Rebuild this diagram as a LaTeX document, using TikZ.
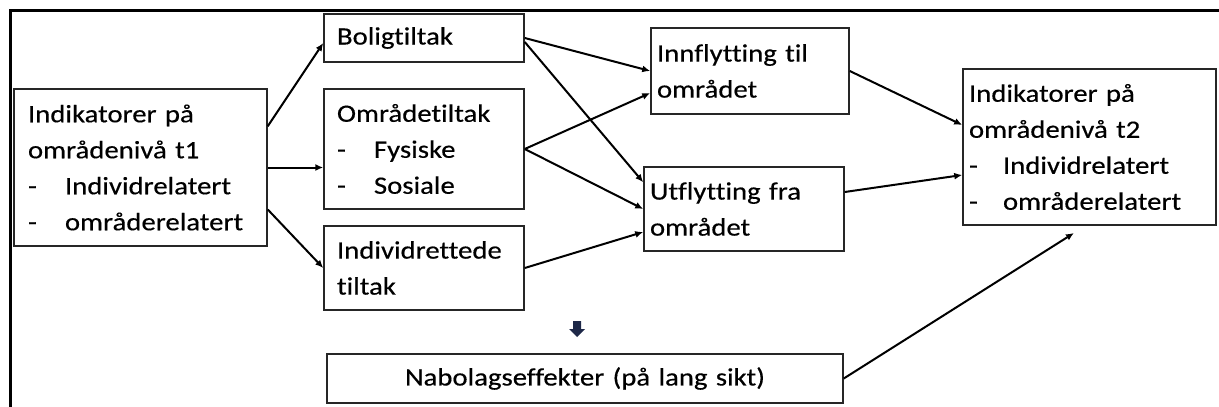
\documentclass[tikz,border=0pt]{standalone}
\usepackage{fontspec}
\setmainfont{Carlito}[FakeStretch=1.15, FakeBold=0.4, Ligatures=NoCommon]
\usetikzlibrary{arrows.meta}
\definecolor{mork}{RGB}{30,40,72}
\newcommand{\strek}[1][37pt]{\makebox[#1][l]{-}}

\begin{document}
\begin{tikzpicture}[x=1pt, y=-1pt,
		boks/.style={draw=black!85, line width=1.5pt, inner xsep=13pt, inner ysep=0pt, align=left, font=\fontsize{25}{36}\selectfont},
		pil/.style={line width=2pt, -{Latex[length=8pt,width=7pt]}}]
			%%%%% START %%%%%
			
			\useasboundingbox (0,0) rectangle (1219,407);
			\draw[line width=3pt] (10,407) -- (10,10) -- (1219,10);
			
			\node[boks, text width=225pt, inner xsep=14pt, minimum height=157pt] (t1) at (140.5,167.5) {Indikatorer på\\områdenivå t1\\\strek Individrelatert\\\strek områderelatert};
			
			\node[boks, text width=174pt, minimum height=48pt] (bolig) at (424,38) {Boligtiltak};
			\node[boks, text width=174pt, minimum height=120pt] (omrade) at (424,149) {Områdetiltak\\\strek Fysiske\\\strek Sosiale};
			\node[boks, text width=174pt, minimum height=84pt] (indiv) at (424,268) {Individrettede\\tiltak};
			
			\node[boks, text width=186pt, inner xsep=6pt, minimum height=86pt] (inn) at (750,71) {Innflytting til\\området};
			\node[boks, text width=188pt, inner xsep=6pt, minimum height=84pt] (ut) at (744,209) {Utflytting fra\\området};
			
			\node[boks, text width=241pt, inner xsep=6pt, minimum height=156pt] (t2) at (1089.5,147) {Indikatorer på\\områdenivå t2\\\strek[34pt]Individrelatert\\\strek[34pt]områderelatert};
			
			\node[boks, text width=490pt, align=center, minimum height=49pt] (nabo) at (585,378.5) {Nabolagseffekter (på lang sikt)};
			
			\fill[mork] (573,321) -- (581,321) -- (581,329) -- (585,329) -- (577,337) -- (569,329) -- (573,329) -- cycle;
			
			\draw[pil] ([yshift=-38pt]t1.north east) -- ([yshift=-5pt]bolig.west);
			\draw[pil] (t1.east) -- ([yshift=-18.5pt]omrade.west);
			\draw[pil] ([yshift=-42pt]t1.east) -- (indiv.west);
			
			\draw[pil] (bolig.east) -- (inn.west);
			\draw[pil] ([yshift=-4pt]bolig.east) -- ([yshift=-16pt]ut.north west);
			\draw[pil] (omrade.east) -- ([yshift=-22pt]inn.west);
			\draw[pil] (omrade.east) -- (ut.west);
			\draw[pil] (indiv.east) -- ([yshift=-23pt]ut.west);
			
			\draw[pil] (inn.east) -- ([yshift=22pt]t2.west);
			\draw[pil] ([yshift=17pt]ut.east) -- ([yshift=-28pt]t2.west);
			
			\coordinate (t2pil) at (1074,233);
			\draw[pil] (nabo.east) -- (t2pil);
			
			%%%%% END %%%%%
		\end{tikzpicture}
\end{document}
